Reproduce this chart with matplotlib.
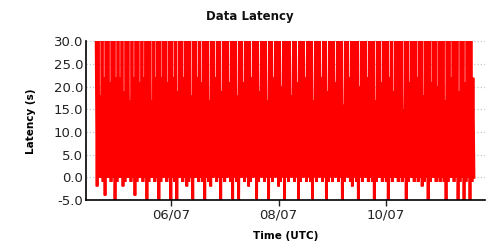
import matplotlib
matplotlib.use('Agg')
import matplotlib.pyplot as plt
import matplotlib.dates as mdates
import numpy as np
import pandas as pd

# peak latency of each sample pair (s), values above 30 are clipped by the axis
lat_hi = [32,32,18,32,22,32,32,21,32,32,22,32,22,32,19,32,32,17,32,22,
          32,32,21,32,22,32,32,32,17,32,22,32,32,22,32,32,21,32,32,22,
          32,19,32,32,22,32,32,32,18,32,32,22,32,21,32,32,32,17,32,32,
          22,32,32,19,32,32,32,21,32,32,32,18,32,32,21,32,32,32,22,32,
          32,32,19,32,32,32,17,32,32,22,32,32,32,20,32,32,32,32,18,32,
          32,21,32,32,32,22,32,32,32,17,32,32,32,22,32,32,19,32,32,32,
          21,32,32,32,16,32,32,22,32,32,32,32,20,32,32,32,22,32,32,32,
          17,32,32,21,32,32,32,22,32,19,32,32,32,32,15,32,32,21,32,32,
          32,22,32,32,18,32,32,32,21,32,32,20,32,32,32,17,32,32,22,32,
          32,32,19,32,32,21,32,32,32,22]

# low latency of each sample pair (s), values below -5 are clipped
lat_lo = [-2,0,0,-1,-4,0,0,-1,0,-5,-1,0,0,-2,-1,0,0,-1,0,-4,
          -1,0,0,-1,0,-6,-1,0,0,-1,0,-6,-1,0,0,-1,0,-5,0,-1,
          -6,0,0,-1,0,-2,-1,0,-6,0,0,-1,0,-1,-6,0,-1,-2,0,0,
          -1,0,-6,0,-1,0,0,-1,-5,0,-1,-6,0,0,-1,0,-2,-1,0,0,
          -6,-1,0,0,-1,0,-6,0,-1,0,0,-2,-1,0,-6,0,-1,0,0,-1,
          0,-5,-1,0,0,-1,0,-1,-6,0,-1,0,0,-1,0,-6,-1,0,-1,0,
          0,-1,0,-6,-1,0,0,-1,-2,0,-1,-6,0,-1,0,0,-1,0,-1,-6,
          -1,0,0,-1,0,-1,-6,0,-1,0,0,-1,0,-1,0,-6,-1,0,0,-1,
          0,-1,0,-2,-1,0,-6,-1,0,0,-1,0,-1,0,-1,-5,-1,0,0,-1,
          0,-6,-1,0,-6,-1,0,-6,-1,0]

t_start = '2015-07-04 14:30'
t_end = '2015-07-11 15:15'
y_ticks = [-5, 0, 5, 10, 15, 20, 25, 30]

# interleave highs and lows into one time series
lat = []
for h, l in zip(lat_hi, lat_lo):
    lat.append(h)
    lat.append(l)
t = pd.date_range(t_start, t_end, periods=len(lat))

#Plot
fig = plt.figure(figsize=(5, 2.5), dpi=100)
ax = fig.add_axes([0.172, 0.2, 0.798, 0.634])
ax.plot(t, lat, color='#ff0000', lw=2.0, solid_joinstyle='miter')

#Decorate
fig.text(0.5, 0.935, 'Data Latency', ha='center', va='center',
         fontsize=8.5, fontweight='bold', color='#111111')
ax.set_xlabel('Time (UTC)', fontsize=7.5, fontweight='bold', labelpad=7)
ax.set_ylabel('Latency (s)', fontsize=7.5, fontweight='bold', labelpad=13)
ax.set_ylim(-5, 30)
ax.set_yticks(y_ticks)
ax.yaxis.set_major_formatter(matplotlib.ticker.FormatStrFormatter('%.1f'))
ax.set_xlim(pd.Timestamp('2015-07-04 10:00'), pd.Timestamp('2015-07-11 20:10'))
ax.xaxis.set_major_locator(mdates.DayLocator(bymonthday=[6, 8, 10]))
ax.xaxis.set_major_formatter(mdates.DateFormatter('%d/%m'))
ax.tick_params(axis='y', length=0, labelsize=9.5, pad=2, colors='#222222')
ax.tick_params(axis='x', length=4, width=1, labelsize=9.5, pad=2, colors='#222222')
ax.grid(axis='y', color='#c8c8c8', linestyle=':', lw=0.9)
ax.set_axisbelow(True)
for s in ['top', 'right']:
    ax.spines[s].set_visible(False)
ax.spines['left'].set_linewidth(1.2)
ax.spines['bottom'].set_linewidth(1.2)

plt.savefig('out.png', dpi=100)
